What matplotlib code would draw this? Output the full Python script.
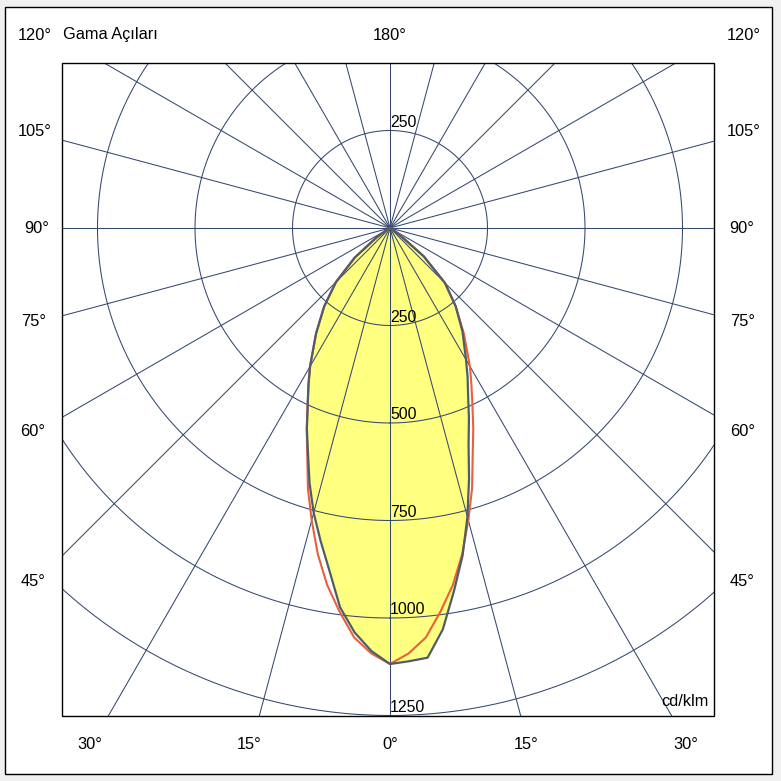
import numpy as np
import matplotlib
matplotlib.use("Agg")
import matplotlib.pyplot as plt
from matplotlib.patches import Rectangle

plt.rcParams['font.family'] = ['Liberation Sans', 'DejaVu Sans']

# ---------------- data ----------------
gammas = [0, 2.5, 5, 7.5, 10, 12.5, 15, 17.5, 20, 22.5, 25, 27.5, 30,
          35, 40, 45, 50, 55, 60, 65, 70, 75, 80, 85, 90]
# C0 (right half) and C180 (left half), cd/klm
c0_values = [1118, 1112, 1106, 1038, 945, 860, 767, 674, 589, 529, 474, 431, 390,
             324, 262, 200, 112, 22, 0, 0, 0, 0, 0, 0, 0]
c180_values = [1118, 1086, 1041, 981, 893, 822, 756, 686, 615, 557, 499, 453, 410,
               331, 263, 195, 119, 45, 10, 0, 0, 0, 0, 0, 0]
# C90 / C270 (symmetric)
c90_values = [1118, 1092, 1054, 992, 929, 856, 776, 700, 620, 558, 500, 452, 410,
              330, 262, 198, 115, 35, 5, 0, 0, 0, 0, 0, 0]
c270_values = c90_values

ring_values = [250, 500, 750, 1000, 1250]
ring_labels = ["250", "500", "750", "1000", "1250"]
spoke_step = 15

left_labels = ["120°", "105°", "90°", "75°", "60°", "45°"]
right_labels = ["120°", "105°", "90°", "75°", "60°", "45°"]
bottom_labels = ["30°", "15°", "0°", "15°", "30°"]
top_label = "180°"
title_text = "Gama Açıları"
unit_text = "cd/klm"

# ---------------- style ----------------
W = 781
GRID = '#34486f'
YELLOW = '#ffff80'
GRAYC = '#4f5d6b'
REDC = '#e8603c'
FS = 11.8
FS_RING = 11.4
RMAX = 1550
PX_PER_UNIT = 97.5 / 250.0
CX, CY = 390.0, 228.0   # centre in pixels (from top)

fig = plt.figure(figsize=(W / 100, W / 100), dpi=100, facecolor='#f0f0f0')

# outer white frame
fig.add_artist(Rectangle((5 / W, 7 / W), 767 / W, 767 / W, transform=fig.transFigure,
                         facecolor='white', edgecolor='black', lw=1.0, zorder=-5))

R_px = RMAX * PX_PER_UNIT
ax = fig.add_axes([(CX - R_px) / W, (W - CY - R_px) / W, 2 * R_px / W, 2 * R_px / W],
                  projection='polar')
ax.set_theta_zero_location('S')
ax.set_theta_direction(1)
ax.set_ylim(0, RMAX)
ax.set_axis_off()

# plot window (pixels: x 62..714, y 63..716 from top)
bx0, by0, bx1, by1 = 62, 63, 714, 716
def clip_rect():
    return Rectangle((bx0 / W, (W - by1) / W), (bx1 - bx0) / W, (by1 - by0) / W,
                     transform=fig.transFigure)

artists = []

# curves
g = np.radians(gammas)
theta_gray = np.concatenate([-g[::-1], g[1:]])
r_gray = np.concatenate([np.array(c180_values)[::-1], np.array(c0_values)[1:]])
theta_red = np.concatenate([-g[::-1], g[1:]])
r_red = np.concatenate([np.array(c270_values)[::-1], np.array(c90_values)[1:]])

artists += ax.fill(theta_gray, r_gray, color=YELLOW, lw=0, zorder=1)

# grid
tc = np.linspace(0, 2 * np.pi, 1441)
for rv in ring_values:
    artists += ax.plot(tc, np.full_like(tc, rv), color=GRID, lw=0.75, zorder=3)
for a in np.arange(0, 360, spoke_step):
    artists += ax.plot([np.radians(a)] * 2, [0, RMAX], color=GRID, lw=0.75, zorder=3)

artists += ax.plot(theta_red, r_red, color=REDC, lw=1.5, zorder=4)
artists += ax.plot(theta_gray, r_gray, color=GRAYC, lw=1.6, zorder=5)

for art in artists:
    art.set_clip_path(clip_rect())

# ring labels
for rv, lab in zip(ring_values, ring_labels):
    ax.annotate(lab, xy=(0, rv), xytext=(0, 2.6), textcoords='offset points',
                ha='left', va='baseline', fontsize=FS_RING, zorder=6)
ax.annotate(ring_labels[0], xy=(np.pi, ring_values[0]), xytext=(0, 2.6),
            textcoords='offset points', ha='left', va='baseline', fontsize=FS_RING, zorder=6)

# plot frame
fig.add_artist(Rectangle((bx0 / W, (W - by1) / W), (bx1 - bx0) / W, (by1 - by0) / W,
                         transform=fig.transFigure, fill=False, edgecolor='black',
                         lw=1.0, zorder=10))

def ftext(s, x, y, ha='center'):
    fig.text(x / W, 1 - y / W, s, ha=ha, va='center', fontsize=FS)

left_pos = [(34.5, 35), (34.5, 132), (37, 228), (33.5, 321.5), (33, 431.5), (33, 581.5)]
right_pos = [(743.5, 35), (743.5, 132), (741.5, 228), (742.5, 321.5), (742.5, 431.5), (742.5, 581.5)]
bottom_pos = [(89.5, 744.5), (249.5, 744.5), (390, 744.5), (526.5, 744.5), (685.5, 744.5)]
for s, (x, y) in zip(left_labels, left_pos):
    ftext(s, x, y)
for s, (x, y) in zip(right_labels, right_pos):
    ftext(s, x, y)
for s, (x, y) in zip(bottom_labels, bottom_pos):
    ftext(s, x, y)
ftext(top_label, 390, 35)
ftext(title_text, 63, 35, ha='left')
ftext(unit_text, 709, 701, ha='right')

fig.savefig('out.png', dpi=100, facecolor=fig.get_facecolor())
